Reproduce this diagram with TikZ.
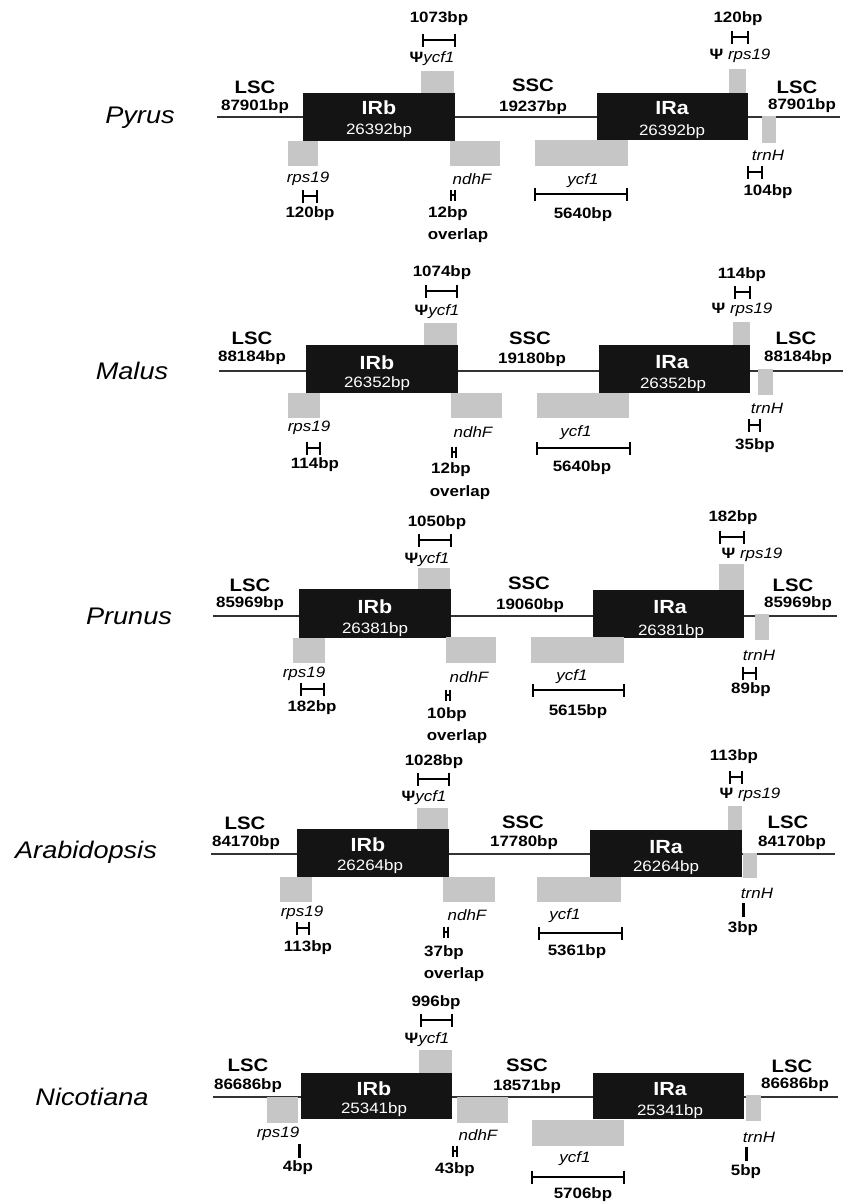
\documentclass[tikz,border=0pt]{standalone}
\usepackage{fontspec}
\newfontfamily\lab{Liberation Sans}[FakeStretch=1.13]
\definecolor{irblack}{HTML}{141414}
\definecolor{genegrey}{HTML}{C6C6C6}
\definecolor{linegrey}{HTML}{333333}
\newcommand\brk[4][6.5]{\draw[brkline] (#2,#4-#1) -- (#2,#4+#1) (#2,#4) -- (#3,#4) (#3,#4-#1) -- (#3,#4+#1);}
\newcommand\sbrk[3]{\brk[5.5]{#1}{#2}{#3}}
\newcommand\vbarmark[2]{\draw[barline] (#1,#2-7) -- (#1,#2+7);}
\tikzset{
  bb/.style={draw=linegrey, line width=1.1pt},
  ir/.style={fill=irblack},
  gb/.style={fill=genegrey},
  brkline/.style={draw=black, line width=1.5pt},
  barline/.style={draw=black, line width=3pt},
  every node/.style={inner sep=0pt, outer sep=0pt},
  sp/.style={font=\lab\fontsize{24}{28}\selectfont\itshape},
  reg/.style={font=\lab\fontsize{18}{21}\selectfont\bfseries},
  bpb/.style={font=\lab\fontsize{15}{18}\selectfont\bfseries},
  gene/.style={font=\lab\fontsize{15}{18}\selectfont\itshape},
  irlab/.style={font=\lab\fontsize{19}{22}\selectfont\bfseries, text=white},
  irbp/.style={font=\lab\fontsize{15}{18}\selectfont, text=white},
}
\newcommand\psy{{\bfseries\upshape\char"03A8}}
\begin{document}
\begin{tikzpicture}[x=1pt,y=-1pt]
\fill[white] (0,0) rectangle (846,1203);
\useasboundingbox (0,0) rectangle (846,1203);

% ================= Panel 1: Pyrus =================
\node[sp] (sp1) at (140,118) {Pyrus};
\draw[bb] (217,117) -- (840,117);
\fill[ir] (303,93) rectangle (455,141);
\fill[ir] (597,93) rectangle (748,140);
\fill[gb] (421,71) rectangle (454,93);
\fill[gb] (288,141) rectangle (318,166);
\fill[gb] (450,141) rectangle (500,166);
\fill[gb] (535,140) rectangle (628,166);
\fill[gb] (729,69) rectangle (746,93);
\fill[gb] (762,116) rectangle (776,143);
\node[reg] (l1a) at (255,87) {LSC};
\node[bpb] (l1b) at (255,107) {87901bp};
\node[reg] (s1a) at (533,85) {SSC};
\node[bpb] (s1b) at (533,108) {19237bp};
\node[reg] (r1a) at (797,87) {LSC};
\node[bpb] (r1b) at (802,106) {87901bp};
\node[irlab] (irb1) at (379,108) {IRb};
\node[irbp] (irb1b) at (379,131) {26392bp};
\node[irlab] (ira1) at (672,108) {IRa};
\node[irbp] (ira1b) at (672,132) {26392bp};
\node[bpb] (y1bp) at (439,19) {1073bp};
\brk{423}{455}{40}
\node[gene] (y1) at (432,59) {\psy ycf1};
\node[gene] (rp1) at (308,179) {rps19};
\brk{303}{317}{196}
\node[bpb] (rp1bp) at (310,214) {120bp};
\node[gene] (nd1) at (472,179) {ndhF};
\sbrk{451}{455}{195}
\node[bpb] (nd1bp) at (448,214) {12bp};
\node[bpb] (nd1o) at (458,236) {overlap};
\node[gene] (pr1) at (740,56) {\psy\ rps19};
\brk{732}{748}{37}
\node[bpb] (pr1bp) at (738,19) {120bp};
\node[gene] (tr1) at (768,155) {trnH};
\brk{748}{762}{172}
\node[bpb] (tr1bp) at (768,192) {104bp};
\node[gene] (yc1) at (583,181) {ycf1};
\brk{535}{627}{194}
\node[bpb] (yc1bp) at (583,215) {5640bp};

% ================= Panel 2: Malus =================
\node[sp] (sp2) at (132,371) {Malus};
\draw[bb] (219,371) -- (843,371);
\fill[ir] (306,345) rectangle (458,393);
\fill[ir] (599,345) rectangle (750,393);
\fill[gb] (424,323) rectangle (457,345);
\fill[gb] (288,393) rectangle (320,418);
\fill[gb] (451,393) rectangle (502,418);
\fill[gb] (537,393) rectangle (629,418);
\fill[gb] (733,322) rectangle (750,345);
\fill[gb] (758,369) rectangle (773,395);
\node[reg] (l2a) at (252,338) {LSC};
\node[bpb] (l2b) at (252,358) {88184bp};
\node[reg] (s2a) at (530,338) {SSC};
\node[bpb] (s2b) at (532,360) {19180bp};
\node[reg] (r2a) at (796,338) {LSC};
\node[bpb] (r2b) at (798,358) {88184bp};
\node[irlab] (irb2) at (377,363) {IRb};
\node[irbp] (irb2b) at (377,384) {26352bp};
\node[irlab] (ira2) at (672,362) {IRa};
\node[irbp] (ira2b) at (673,385) {26352bp};
\node[bpb] (y2bp) at (442,273) {1074bp};
\brk{426}{457}{291}
\node[gene] (y2) at (437,312) {\psy ycf1};
\node[gene] (rp2) at (309,428) {rps19};
\brk{307}{320}{448}
\node[bpb] (rp2bp) at (315,465) {114bp};
\node[gene] (nd2) at (473,432) {ndhF};
\sbrk{452}{456}{452}
\node[bpb] (nd2bp) at (451,470) {12bp};
\node[bpb] (nd2o) at (460,493) {overlap};
\node[bpb] (pr2bp) at (742,275) {114bp};
\brk{735}{750}{292}
\node[gene] (pr2) at (742,310) {\psy\ rps19};
\node[gene] (tr2) at (767,408) {trnH};
\brk{749}{760}{425}
\node[bpb] (tr2bp) at (755,446) {35bp};
\node[gene] (yc2) at (576,433) {ycf1};
\brk{537}{630}{448}
\node[bpb] (yc2bp) at (582,468) {5640bp};

% ================= Panel 3: Prunus =================
\node[sp] (sp3) at (129,616) {Prunus};
\draw[bb] (213,616) -- (837,616);
\fill[ir] (299,589) rectangle (451,638);
\fill[ir] (593,590) rectangle (744,638);
\fill[gb] (418,568) rectangle (450,589);
\fill[gb] (293,638) rectangle (325,663);
\fill[gb] (446,637) rectangle (496,663);
\fill[gb] (531,637) rectangle (624,663);
\fill[gb] (719,564) rectangle (744,590);
\fill[gb] (755,614) rectangle (769,640);
\node[reg] (l3a) at (250,585) {LSC};
\node[bpb] (l3b) at (250,604) {85969bp};
\node[reg] (s3a) at (529,583) {SSC};
\node[bpb] (s3b) at (530,606) {19060bp};
\node[reg] (r3a) at (793,585) {LSC};
\node[bpb] (r3b) at (798,604) {85969bp};
\node[irlab] (irb3) at (375,607) {IRb};
\node[irbp] (irb3b) at (375,630) {26381bp};
\node[irlab] (ira3) at (670,607) {IRa};
\node[irbp] (ira3b) at (671,632) {26381bp};
\node[bpb] (y3bp) at (437,523) {1050bp};
\brk{419}{451}{540}
\node[gene] (y3) at (427,560) {\psy ycf1};
\node[gene] (rp3) at (304,674) {rps19};
\brk{301}{324}{689}
\node[bpb] (rp3bp) at (312,708) {182bp};
\node[gene] (nd3) at (469,677) {ndhF};
\sbrk{446}{450}{695}
\node[bpb] (nd3bp) at (447,715) {10bp};
\node[bpb] (nd3o) at (457,737) {overlap};
\node[bpb] (pr3bp) at (733,518) {182bp};
\brk{720}{744}{537}
\node[gene] (pr3) at (752,555) {\psy\ rps19};
\node[gene] (tr3) at (759,655) {trnH};
\brk{743}{756}{673}
\node[bpb] (tr3bp) at (751,690) {89bp};
\node[gene] (yc3) at (572,677) {ycf1};
\brk{533}{624}{690}
\node[bpb] (yc3bp) at (578,712) {5615bp};

% ================= Panel 4: Arabidopsis =================
\node[sp] (sp4) at (86,852) {Arabidopsis};
\draw[bb] (211,854) -- (835,854);
\fill[ir] (297,829) rectangle (449,877);
\fill[ir] (590,830) rectangle (742,877);
\fill[gb] (417,808) rectangle (448,829);
\fill[gb] (280,877) rectangle (312,902);
\fill[gb] (443,877) rectangle (495,902);
\fill[gb] (537,877) rectangle (621,902);
\fill[gb] (728,806) rectangle (742,830);
\fill[gb] (743,853) rectangle (757,878);
\node[reg] (l4a) at (245,823) {LSC};
\node[bpb] (l4b) at (246,843) {84170bp};
\node[reg] (s4a) at (523,822) {SSC};
\node[bpb] (s4b) at (524,843) {17780bp};
\node[reg] (r4a) at (788,822) {LSC};
\node[bpb] (r4b) at (792,843) {84170bp};
\node[irlab] (irb4) at (368,845) {IRb};
\node[irbp] (irb4b) at (370,867) {26264bp};
\node[irlab] (ira4) at (666,847) {IRa};
\node[irbp] (ira4b) at (666,868) {26264bp};
\node[bpb] (y4bp) at (434,762) {1028bp};
\brk{418}{449}{779}
\node[gene] (y4) at (424,798) {\psy ycf1};
\node[gene] (rp4) at (302,913) {rps19};
\brk{297}{309}{928}
\node[bpb] (rp4bp) at (308,948) {113bp};
\node[gene] (nd4) at (467,915) {ndhF};
\sbrk{444}{448}{932}
\node[bpb] (nd4bp) at (444,953) {37bp};
\node[bpb] (nd4o) at (454,975) {overlap};
\node[bpb] (pr4bp) at (734,757) {113bp};
\brk{730}{742}{777}
\node[gene] (pr4) at (750,795) {\psy\ rps19};
\node[gene] (tr4) at (757,893) {trnH};
\vbarmark{743}{910}
\node[bpb] (tr4bp) at (743,929) {3bp};
\node[gene] (yc4) at (565,916) {ycf1};
\brk{539}{622}{933}
\node[bpb] (yc4bp) at (577,952) {5361bp};

% ================= Panel 5: Nicotiana =================
\node[sp] (sp5) at (92,1097) {Nicotiana};
\draw[bb] (213,1097) -- (838,1097);
\fill[ir] (301,1073) rectangle (452,1119);
\fill[ir] (593,1073) rectangle (744,1119);
\fill[gb] (419,1050) rectangle (452,1073);
\fill[gb] (267,1097) rectangle (298,1123);
\fill[gb] (457,1097) rectangle (508,1123);
\fill[gb] (532,1120) rectangle (624,1146);
\fill[gb] (746,1095) rectangle (761,1121);
\node[reg] (l5a) at (248,1065) {LSC};
\node[bpb] (l5b) at (248,1086) {86686bp};
\node[reg] (s5a) at (527,1065) {SSC};
\node[bpb] (s5b) at (527,1087) {18571bp};
\node[reg] (r5a) at (792,1066) {LSC};
\node[bpb] (r5b) at (795,1085) {86686bp};
\node[irlab] (irb5) at (374,1089) {IRb};
\node[irbp] (irb5b) at (374,1110) {25341bp};
\node[irlab] (ira5) at (670,1089) {IRa};
\node[irbp] (ira5b) at (670,1112) {25341bp};
\node[bpb] (y5bp) at (436,1003) {996bp};
\brk{421}{452}{1020}
\node[gene] (y5) at (427,1040) {\psy ycf1};
\node[gene] (rp5) at (278,1134) {rps19};
\vbarmark{299}{1151}
\node[bpb] (rp5bp) at (298,1168) {4bp};
\node[gene] (nd5) at (478,1135) {ndhF};
\sbrk{453}{457}{1151}
\node[bpb] (nd5bp) at (455,1170) {43bp};
\node[gene] (tr5) at (759,1137) {trnH};
\vbarmark{746}{1154}
\node[bpb] (tr5bp) at (746,1172) {5bp};
\node[gene] (yc5) at (575,1159) {ycf1};
\brk{532}{624}{1177}
\node[bpb] (yc5bp) at (583,1195) {5706bp};
\end{tikzpicture}
\end{document}
